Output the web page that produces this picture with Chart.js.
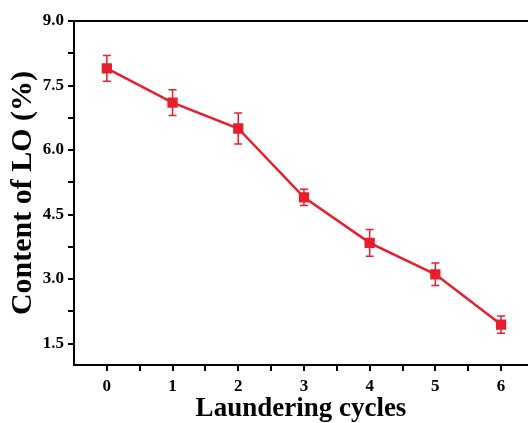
<!DOCTYPE html>
<html>
<head>
<meta charset="utf-8">
<script src="https://cdn.jsdelivr.net/npm/chart.js@4/dist/chart.umd.min.js"></script>
<style>
  html, body { margin: 0; padding: 0; background: #fff; overflow: hidden; }
  canvas { display: block; }
</style>
</head>
<body>
<canvas id="chart" width="528" height="423"></canvas>
<script>
// data
const cycles = [0, 1, 2, 3, 4, 5, 6];
const loContent = [7.90, 7.10, 6.50, 4.90, 3.84, 3.11, 1.94];
const loError = [0.30, 0.30, 0.36, 0.19, 0.31, 0.26, 0.20];
const xTicks = [0, 1, 2, 3, 4, 5, 6];
const xMinorTicks = [0.5, 1.5, 2.5, 3.5, 4.5, 5.5];
const yTicks = [1.5, 3.0, 4.5, 6.0, 7.5, 9.0];
const yMinorTicks = [2.25, 3.75, 5.25, 6.75, 8.25];

const red = 'rgb(232, 30, 45)';
const font = 'Liberation Serif';

// error bars and the top frame line
const extras = {
    id: 'extras',
    afterDatasetsDraw(chart) {
        const ctx = chart.ctx;
        const xs = chart.scales.x, ys = chart.scales.y;
        ctx.save();
        ctx.strokeStyle = red;
        ctx.lineWidth = 1.5;
        cycles.forEach((c, i) => {
            const px = xs.getPixelForValue(c);
            const top = ys.getPixelForValue(loContent[i] + loError[i]);
            const bot = ys.getPixelForValue(loContent[i] - loError[i]);
            ctx.beginPath();
            ctx.moveTo(px, top); ctx.lineTo(px, bot);
            ctx.moveTo(px - 4, top); ctx.lineTo(px + 4, top);
            ctx.moveTo(px - 4, bot); ctx.lineTo(px + 4, bot);
            ctx.stroke();
        });
        const a = chart.chartArea;
        ctx.strokeStyle = '#000';
        ctx.lineWidth = 2;
        ctx.beginPath();
        ctx.moveTo(a.left - 1, a.top);
        ctx.lineTo(a.right, a.top);
        ctx.stroke();
        ctx.restore();
    }
};

new Chart(document.getElementById('chart'), {
    type: 'line',
    data: {
        datasets: [{
            data: cycles.map((c, i) => ({ x: c, y: loContent[i] })),
            borderColor: red,
            backgroundColor: red,
            borderWidth: 2.5,
            pointStyle: 'rect',
            pointRadius: 5.5,
            pointHoverRadius: 5.5,
            tension: 0
        }]
    },
    options: {
        responsive: false,
        animation: false,
        layout: { autoPadding: false, padding: { top: 21, right: 0, left: 0, bottom: 0 } },
        plugins: { legend: { display: false }, tooltip: { enabled: false } },
        scales: {
            x: {
                type: 'linear',
                min: -0.5,
                max: 6.41,
                afterBuildTicks: s => {
                    s.ticks = xTicks.concat(xMinorTicks).map(v => ({ value: v }));
                },
                afterFit: s => { s.height = 58; s.paddingLeft = 0; s.paddingRight = 0; },
                border: { display: true, color: '#000', width: 2 },
                grid: { display: true, drawOnChartArea: false, drawTicks: true, tickLength: 6, color: '#000', lineWidth: 2 },
                ticks: {
                    color: '#000',
                    padding: 5,
                    autoSkip: false,
                    maxRotation: 0,
                    font: { family: font, size: 17, weight: 'bold' },
                    callback: v => xTicks.includes(v) ? String(v) : ''
                },
                title: {
                    display: true,
                    text: 'Laundering cycles',
                    color: '#000',
                    font: { family: font, size: 27, weight: 'bold', lineHeight: 1 },
                    padding: { top: 0, bottom: 0 }
                }
            },
            y: {
                min: 1.0,
                max: 9.0,
                afterBuildTicks: s => {
                    s.ticks = yTicks.concat(yMinorTicks).map(v => ({ value: v }));
                },
                afterFit: s => { s.width = 74; s.paddingTop = 0; s.paddingBottom = 0; },
                border: { display: true, color: '#000', width: 2 },
                grid: { display: true, drawOnChartArea: false, drawTicks: true, tickLength: 6, color: '#000', lineWidth: 2 },
                ticks: {
                    color: '#000',
                    padding: 4,
                    autoSkip: false,
                    font: { family: font, size: 17, weight: 'bold' },
                    callback: v => yTicks.includes(v) ? v.toFixed(1) : ''
                },
                title: {
                    display: true,
                    text: 'Content of LO (%)',
                    color: '#000',
                    font: { family: font, size: 30, weight: 'bold', lineHeight: 1 },
                    padding: { top: 8, bottom: 0 }
                }
            }
        }
    },
    plugins: [extras]
});
</script>
</body>
</html>
